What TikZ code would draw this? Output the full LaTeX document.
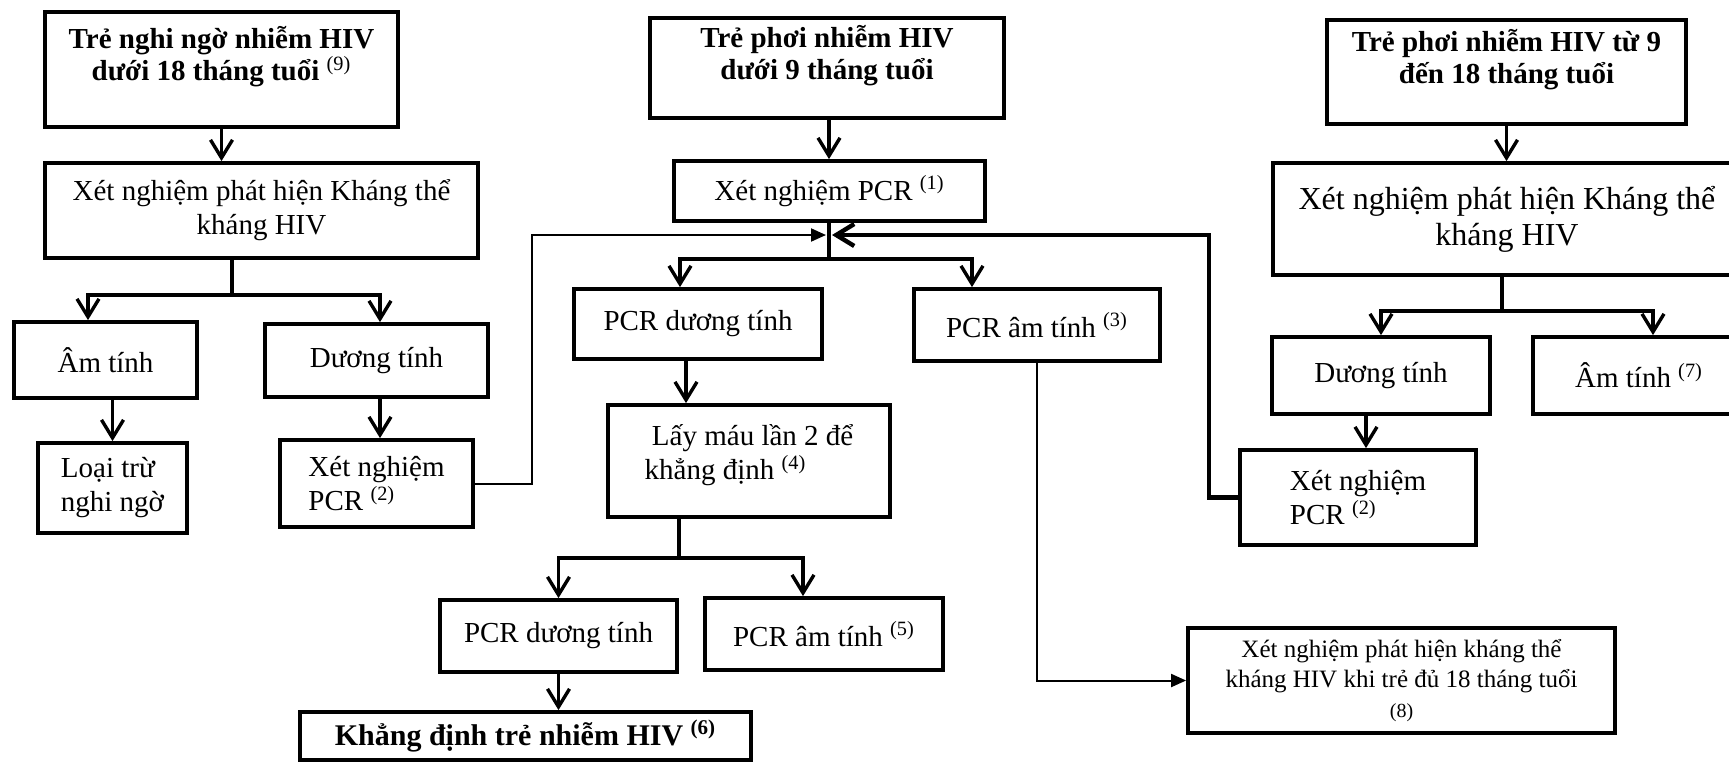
\documentclass[tikz,border=0pt]{standalone}
\usepackage{fontspec}
\setmainfont{Liberation Serif}
\usetikzlibrary{arrows.meta}

\begin{document}
\begin{tikzpicture}[x=0.5pt,y=-0.5pt]
\tikzstyle{box}=[draw, line width=1.9pt, inner sep=3pt, align=center, font=\fontsize{14.5}{17}\selectfont]
\tikzstyle{title}=[box, font=\fontsize{14.5}{16}\selectfont\bfseries]
\tikzstyle{arr}=[line width=1.7pt, -{Straight Barb[length=9pt,width=11pt]}]
\tikzstyle{tri}=[line width=1pt, -{Triangle[length=7.5pt,width=6.5pt]}]
\useasboundingbox (0,0) rectangle (1729,762);

% left column
\node[title, minimum width=176.5pt, minimum height=57.5pt] (nghingo) at (221.5,69.5) {Trẻ nghi ngờ nhiễm HIV\\dưới 18 tháng tuổi \textsuperscript{\mdseries (9)}\\ \mbox{}};
\node[box, minimum width=216.5pt, minimum height=47.5pt] (xnkt1) at (261.5,210.5) {Xét nghiệm phát hiện Kháng thể\\kháng HIV};
\node[box, minimum width=91.5pt, minimum height=38pt] (amtinh1) at (105.5,360) {Âm tính};
\node[box, minimum width=111.5pt, minimum height=36.5pt] (duongtinh1) at (376.5,360.5) {Dương tính};
\node[box, align=left, minimum width=74.5pt, minimum height=45pt] (loaitru) at (112.5,488) {Loại trừ\\nghi ngờ};
\node[box, align=left, minimum width=96.5pt, minimum height=43.5pt] (pcr2a) at (376.5,483.5) {Xét nghiệm\\PCR \textsuperscript{(2)}};

% middle column
\node[title, minimum width=177pt, minimum height=50pt] (phoi9) at (827,68) {Trẻ phơi nhiễm HIV\\dưới 9 tháng tuổi\\ \mbox{}};
\node[box, minimum width=155.5pt, minimum height=30pt] (pcr1) at (829.5,191) {Xét nghiệm PCR \textsuperscript{(1)}};
\coordinate (J) at (829,235);
\node[box, minimum width=124pt, minimum height=35pt] (pcrduong) at (698,324) {PCR dương tính};
\node[box, minimum width=123pt, minimum height=36pt] (pcram) at (1037,325) {PCR âm tính \textsuperscript{(3)}};
\node[box, align=left, minimum width=141pt, minimum height=56pt] (laymau) at (749,461) {\ Lấy máu lần 2 để\\khẳng định \textsuperscript{(4)}\\[-8pt] \mbox{}};
\node[box, minimum width=118.5pt, minimum height=36pt] (pcrduong2) at (558.5,636) {PCR dương tính};
\node[box, minimum width=119pt, minimum height=36pt] (pcram2) at (824,634) {PCR âm tính \textsuperscript{(5)}};
\node[title, font=\fontsize{15}{16}\selectfont\bfseries, minimum width=225.5pt, minimum height=24pt] (khangdinh) at (525.5,736) {Khẳng định trẻ nhiễm HIV \textsuperscript{(6)}};
\node[box, font=\fontsize{12.5}{15}\selectfont, minimum width=213.5pt, minimum height=52.5pt] (xnkt18) at (1401.5,680.5) {Xét nghiệm phát hiện kháng thể\\kháng HIV khi trẻ đủ 18 tháng tuổi\\{\fontsize{10}{11}\selectfont (8)}};

% right column
\node[title, minimum width=179.5pt, minimum height=52pt] (phoi918) at (1506.5,72) {Trẻ phơi nhiễm HIV từ 9\\đến 18 tháng tuổi\\ \mbox{}};
\node[box, font=\fontsize{16}{18}\selectfont, minimum width=234pt, minimum height=56pt] (xnkt2) at (1507,219) {Xét nghiệm phát hiện Kháng thể\\kháng HIV};
\node[box, minimum width=109pt, minimum height=38.5pt] (duongtinh2) at (1381,375.5) {Dương tính};
\node[box, minimum width=106pt, minimum height=38.5pt] (amtinh2) at (1639,375.5) {Âm tính \textsuperscript{(7)}};
\node[box, align=left, minimum width=118pt, minimum height=47.5pt] (pcr2b) at (1358,497.5) {Xét nghiệm\\PCR \textsuperscript{(2)}};

% connectors
\draw[arr] (nghingo.south) -- (nghingo.south |- xnkt1.north);
\draw[arr] ([xshift=-14.75pt]xnkt1.south) -- ++(0,35) -| ([xshift=-8.75pt]amtinh1.north);
\draw[arr] ([xshift=-14.75pt]xnkt1.south) -- ++(0,35) -| ([xshift=1.75pt]duongtinh1.north);
\draw[arr] (loaitru.north |- amtinh1.south) -- (loaitru.north);
\draw[arr] ([xshift=1.75pt]duongtinh1.south) -- ([xshift=1.75pt]duongtinh1.south |- pcr2a.north);

\draw[arr] (phoi9.south -| J) -- (pcr1.north -| J);
\draw[arr] (pcr1.south -| J) -- ++(0,36) -| ([xshift=-9pt]pcrduong.north);
\draw[arr] (pcr1.south -| J) -- ++(0,36) -| ([xshift=-32.5pt]pcram.north);
\draw[tri] (pcr2a.east) -| (532,235) -- ([xshift=-1.5pt]J);
\draw[arr, line width=2.2pt] (pcr2b.west) -| (1209,235) -- ([xshift=1.5pt]J);
\draw[arr] ([xshift=-6pt]pcrduong.south) -- ([xshift=-6pt]pcrduong.south |- laymau.north);
\draw[arr] ([xshift=-35pt]laymau.south) -- ++(0,39) -| (pcrduong2.north);
\draw[arr] ([xshift=-35pt]laymau.south) -- ++(0,39) -| ([xshift=-10.5pt]pcram2.north);
\draw[arr] (pcrduong2.south) -- (pcrduong2.south |- khangdinh.north);
\draw[tri] (pcram.south) |- (xnkt18.west);

\draw[arr] (phoi918.south) -- (phoi918.south |- xnkt2.north);
\draw[arr] ([xshift=-2.5pt]xnkt2.south) -- ++(0,34) -| (duongtinh2.north);
\draw[arr] ([xshift=-2.5pt]xnkt2.south) -- ++(0,34) -| ([xshift=7pt]amtinh2.north);
\draw[arr] ([xshift=-7.5pt]duongtinh2.south) -- ([xshift=-7.5pt]duongtinh2.south |- pcr2b.north);
\end{tikzpicture}
\end{document}
